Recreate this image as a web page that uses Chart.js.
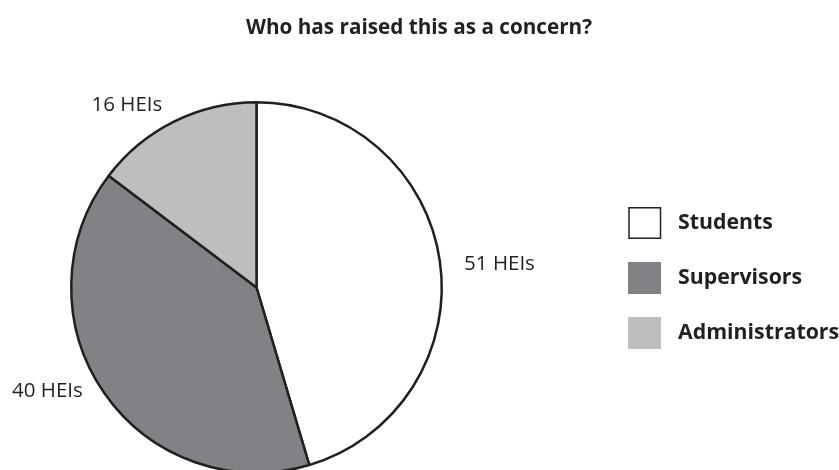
<!DOCTYPE html>
<html>
<head>
<meta charset="utf-8">
<script src="https://cdn.jsdelivr.net/npm/chart.js@4/dist/chart.umd.min.js"></script>
<style>
  html, body { margin: 0; padding: 0; background: #fff; overflow: hidden; }
  #wrap { position: relative; width: 839px; height: 490px; }
</style>
</head>
<body>
<div id="wrap"><canvas id="chart" width="839" height="490"></canvas></div>
<script>
// Who has raised this as a concern? (number of HEIs)
const categories = ['Students', 'Supervisors', 'Administrators'];
const counts = [51, 40, 16];
// slice shares as drawn in the picture (%)
const shares = [45.4, 39.9, 14.7];
const sliceLabels = counts.map(n => `${n} HEIs`);

const INK = '#231f20';
const colors = ['#ffffff', '#808285', '#bcbec0'];
const FONT = '"Open Sans", "Noto Sans", sans-serif';

// label placement: angle from top (deg, clockwise) and distance in radii
const labelPlacement = [
  { angle: 84.4, dist: 1.318 },
  { angle: 243.6, dist: 1.26 },
  { angle: 324.6, dist: 1.207 }
];

const decorPlugin = {
  id: 'decor',
  afterDraw(chart) {
    const ctx = chart.ctx;
    ctx.save();
    ctx.fillStyle = INK;

    // title
    ctx.font = `bold 20.7px ${FONT}`;
    ctx.textAlign = 'center';
    ctx.textBaseline = 'alphabetic';
    ctx.fillText('Who has raised this as a concern?', 419, 34);

    // slice labels
    const meta = chart.getDatasetMeta(0);
    ctx.font = `20.5px ${FONT}`;
    ctx.textAlign = 'center';
    ctx.textBaseline = 'middle';
    meta.data.forEach((arc, i) => {
      const p = labelPlacement[i];
      const a = (p.angle * Math.PI) / 180;
      const r = arc.outerRadius * p.dist;
      ctx.fillText(sliceLabels[i], arc.x + Math.sin(a) * r, arc.y - Math.cos(a) * r);
    });

    // legend
    ctx.font = `bold 21.3px ${FONT}`;
    ctx.textAlign = 'left';
    categories.forEach((name, i) => {
      const y = 207 + i * 55;
      ctx.fillStyle = colors[i];
      ctx.fillRect(628, y, 33, 32);
      if (i === 0) {
        ctx.strokeStyle = INK;
        ctx.lineWidth = 1.5;
        ctx.strokeRect(629, y + 0.75, 31.5, 30.5);
      }
      ctx.fillStyle = INK;
      ctx.fillText(name, 678, y + 16);
    });
    ctx.restore();
  }
};

new Chart(document.getElementById('chart'), {
  type: 'pie',
  data: {
    labels: categories,
    datasets: [{
      data: shares,
      backgroundColor: colors,
      borderColor: INK,
      borderWidth: 2.5,
      hoverOffset: 0
    }]
  },
  options: {
    responsive: false,
    animation: false,
    layout: { padding: { left: 70, right: 396, top: 100, bottom: 15 } },
    plugins: {
      legend: { display: false },
      title: { display: false },
      tooltip: { enabled: false }
    }
  },
  plugins: [decorPlugin]
});
</script>
</body>
</html>
